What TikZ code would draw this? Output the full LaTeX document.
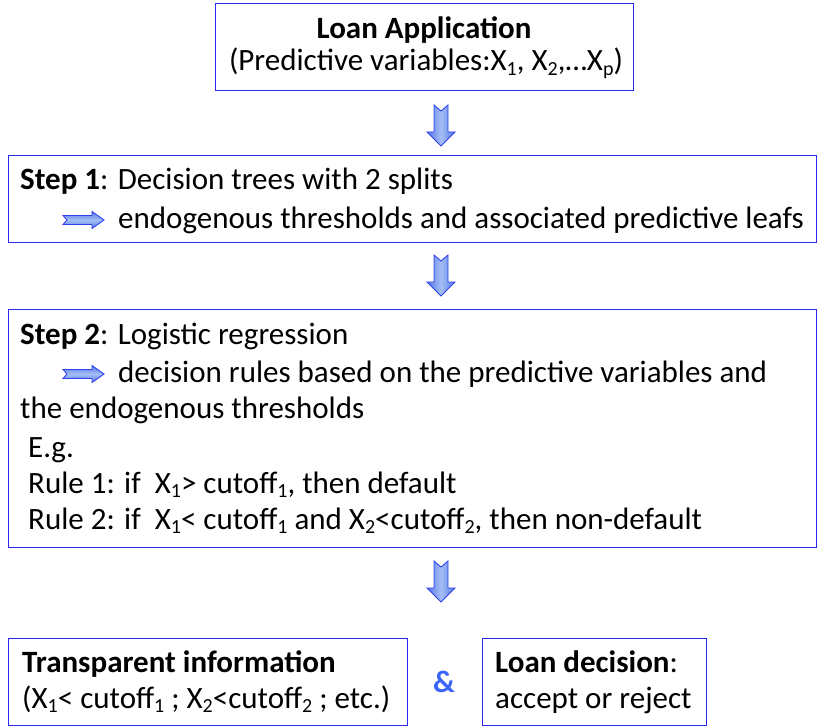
\documentclass[tikz,border=0pt]{standalone}
\usepackage{fontspec}
\setmainfont{Carlito}
\usetikzlibrary{calc}
\definecolor{boxblue}{RGB}{40,40,240}
\definecolor{arrline}{RGB}{45,65,235}
\definecolor{arrlight}{RGB}{165,190,245}
\definecolor{arrdark}{RGB}{85,120,230}
\definecolor{ampblue}{RGB}{60,100,250}
\newcommand{\lsub}[1]{\raisebox{-0.28ex}{\fontsize{20}{20}\selectfont #1}}
\tikzset{
  box/.style={draw=boxblue, line width=1.2pt, rectangle, inner sep=0pt, anchor=north west},
  txt/.style={inner sep=0pt, anchor=base west, font=\fontsize{31}{36}\selectfont},
  ctxt/.style={inner sep=0pt, anchor=base, font=\fontsize{31}{36}\selectfont},
  blockshade/.style={draw=arrline, line width=0.9pt, line join=miter, left color=arrdark, right color=arrdark, middle color=arrlight, shading angle=90},
  downarr/.pic={
    \path[blockshade] (-7,0) -- (0,6) -- (7,0) -- (7,27) -- (14,27) -- (0,41) -- (-14,27) -- (-7,27) -- cycle;
  },
  rightarr/.pic={
    \path[blockshade, top color=arrdark, bottom color=arrdark, middle color=arrlight] (0,-4.5) -- (29,-4.5) -- (29,-8.5) -- (41,0) -- (29,8.5) -- (29,4.5) -- (0,4.5) -- (4,0) -- cycle;
  }
}
\begin{document}
\begin{tikzpicture}[x=1pt,y=-1pt]
\useasboundingbox (0,0) rectangle (818,727);
% boxes
\node[box, minimum width=418pt, minimum height=87pt] (b1) at (215,3) {};
\node[box, minimum width=808pt, minimum height=87pt] (b2) at (8,155) {};
\node[box, minimum width=808pt, minimum height=238pt] (b3) at (8,309) {};
\node[box, minimum width=399pt, minimum height=87pt] (b4) at (8,638) {};
\node[box, minimum width=224pt, minimum height=87pt] (b5) at (482,638) {};
% box 1 text
\node[ctxt] (t11) at (424,39) {\bfseries Loan Application};
\node[ctxt] (t12) at (426,71) {(Predictive variables:X\lsub{1}, X\lsub{2},…X\lsub{p})};
% box 2 text
\node[txt] (t21) at (20,190) {\textbf{Step 1}: Decision trees with 2 splits};
\pic at (63,220) {rightarr};
\node[txt] (t22) at (118,229) {endogenous thresholds and associated predictive leafs};
% box 3 text
\node[txt] (t31) at (20,344) {\textbf{Step 2}: Logistic regression};
\pic at (63,374) {rightarr};
\node[txt] (t32) at (118,382) {decision rules based on the predictive variables and};
\node[txt] (t33) at (20,418) {the endogenous thresholds};
\node[txt] (t34) at (28,457) {E.g.};
\node[txt] (t35) at (28,493) {Rule 1: if~ X\lsub{1}> cutoff\lsub{1}, then default};
\node[txt] (t36) at (28,529) {Rule 2: if~ X\lsub{1}< cutoff\lsub{1} and X\lsub{2}<cutoff\lsub{2}, then non-default};
% bottom
\node[txt] (t41) at (22,672) {\bfseries Transparent information};
\node[txt] (t42) at (22,708) {(X\lsub{1}< cutoff\lsub{1} ; X\lsub{2}<cutoff\lsub{2} ; etc.)};
\node[txt, text=ampblue] (amp) at (433,692) {\bfseries \&};
\node[txt] (t51) at (495,672) {\textbf{Loan decision}:};
\node[txt] (t52) at (495,708) {accept or reject};
% block arrows between boxes
\pic at (441,105) {downarr};
\pic at (441,255) {downarr};
\pic at (441,561) {downarr};
\end{tikzpicture}
\end{document}
